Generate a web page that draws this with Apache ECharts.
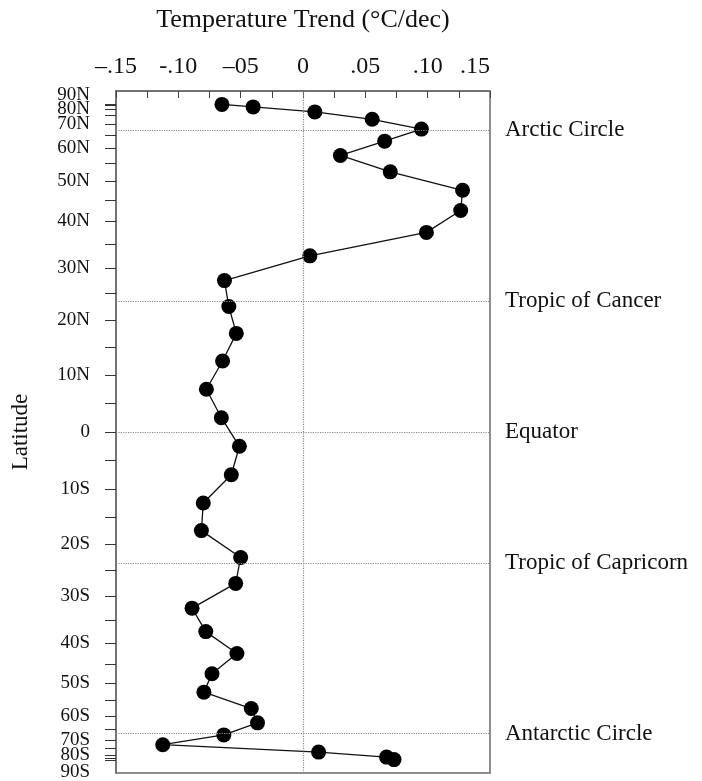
<!DOCTYPE html>
<html>
<head>
<meta charset="utf-8">
<script src="https://cdn.jsdelivr.net/npm/echarts@6/dist/echarts.min.js"></script>
<style>
  html, body { margin: 0; padding: 0; background: #fff; }
  #chart { width: 702px; height: 781px; }
</style>
</head>
<body>
<div id="chart"></div>
<script>
// Zonal-mean temperature trend by 5-degree latitude band (north to south)
const bandLats = [87.5, 82.5, 77.5, 72.5, 67.5, 62.5, 57.5, 52.5, 47.5, 42.5, 37.5, 32.5,
                  27.5, 22.5, 17.5, 12.5, 7.5, 2.5, -2.5, -7.5, -12.5, -17.5, -22.5, -27.5,
                  -32.5, -37.5, -42.5, -47.5, -52.5, -57.5, -62.5, -67.5, -72.5, -77.5, -82.5, -87.5];
const trends = [-0.065, -0.040, 0.0095, 0.0555, 0.095, 0.0655, 0.030, 0.070, 0.128, 0.1265, 0.099, 0.0055,
                -0.063, -0.0595, -0.0535, -0.0645, -0.0775, -0.0655, -0.051, -0.0575, -0.080, -0.0815, -0.050, -0.054,
                -0.089, -0.078, -0.053, -0.073, -0.0795, -0.0415, -0.0365, -0.0635, -0.1125, 0.0125, 0.067, 0.073];

// Trend axis labels
const xTickValues = [-0.15, -0.10, -0.05, 0, 0.05, 0.10, 0.15];
const xTickLabels = ['\u2013.15', '-.10', '\u201305', '0', '.05', '.10', '.15'];

// Latitude axis: labels every 10 degrees, ticks every 5 degrees
const yLabelLats = [90, 80, 70, 60, 50, 40, 30, 20, 10, 0, -10, -20, -30, -40, -50, -60, -70, -80, -90];
const yLabelTexts = ['90N', '80N', '70N', '60N', '50N', '40N', '30N', '20N', '10N', '0',
                     '10S', '20S', '30S', '40S', '50S', '60S', '70S', '80S', '90S'];
const yTickLats = [90, 85, 80, 75, 70, 65, 60, 55, 50, 45, 40, 35, 30, 25, 20, 15, 10, 5, 0,
                   -5, -10, -15, -20, -25, -30, -35, -40, -45, -50, -55, -60, -65, -70, -75, -80, -85, -90];

// Reference parallels
const circleLats = [66.5, 23.5, 0, -23.5, -66.5];
const circleNames = ['Arctic Circle', 'Tropic of Cancer', 'Equator', 'Tropic of Capricorn', 'Antarctic Circle'];

// Latitude is plotted on an area-weighted (sine) scale
const sinLat = lat => Math.sin(lat * Math.PI / 180);

const SERIF = '"Liberation Serif", "DejaVu Serif", serif';

const points = bandLats.map((lat, i) => [trends[i], sinLat(lat)]);
const yLabelPos = yLabelLats.map(sinLat);
// Start the label list at the equator so the crowded polar labels are not
// treated as the axis end labels (which would hide their close neighbours).
const mid = yLabelLats.indexOf(0);
const yLabelOrder = yLabelPos.slice(mid).concat(yLabelPos.slice(0, mid));

const chart = echarts.init(document.getElementById('chart'), null, { renderer: 'canvas' });

chart.setOption({
  animation: false,
  backgroundColor: '#fff',
  grid: {
    left: 116, right: 212, top: 91, bottom: 8,
    outerBoundsMode: 'none',
    containLabel: false,
    show: true, borderColor: '#6a6a6a', borderWidth: 1.5, backgroundColor: 'transparent'
  },
  xAxis: {
    type: 'value',
    position: 'top',
    min: -0.15, max: 0.15, interval: 0.025,
    name: 'Temperature Trend (\u00b0C/dec)',
    nameLocation: 'middle',
    nameGap: 58,
    nameTextStyle: { fontFamily: SERIF, fontSize: 26, color: '#111' },
    axisLine: { show: true, onZero: false, lineStyle: { color: '#6a6a6a', width: 1.5 } },
    axisTick: { show: true, inside: true, length: 7, lineStyle: { color: '#444', width: 1 } },
    splitLine: { show: false },
    axisLabel: {
      customValues: xTickValues,
      margin: 12,
      hideOverlap: false,
      showMinLabel: true, showMaxLabel: true,
      fontFamily: SERIF, fontSize: 24, color: '#111',
      alignMaxLabel: 'right',
      formatter: v => {
        const i = xTickValues.findIndex(t => Math.abs(t - v) < 1e-6);
        return i >= 0 ? xTickLabels[i] : '';
      }
    }
  },
  yAxis: {
    type: 'value',
    min: -1.04, max: 1.04,
    name: 'Latitude',
    nameLocation: 'middle',
    nameGap: 84,
    nameTextStyle: { fontFamily: SERIF, fontSize: 23, color: '#111' },
    axisLine: { show: true, onZero: false, lineStyle: { color: '#6a6a6a', width: 1.5 } },
    axisTick: {
      show: true, inside: false, length: 11,
      customValues: yTickLats.map(sinLat),
      lineStyle: { color: '#333', width: 1 }
    },
    splitLine: { show: false },
    axisLabel: {
      customValues: yLabelOrder,
      margin: 26,
      hideOverlap: false,
      fontFamily: SERIF, fontSize: 19, color: '#111',
      formatter: v => {
        const i = yLabelPos.findIndex(p => Math.abs(p - v) < 1e-6);
        if (i < 0) return '';
        const t = yLabelTexts[i];
        if (yLabelLats[i] === 90) return '{up|' + t + '}';
        if (yLabelLats[i] === -90) return '{dn|' + t + '}';
        return t;
      },
      rich: {
        up: { fontFamily: SERIF, fontSize: 19, color: '#111', padding: [0, 0, 18, 0] },
        dn: { fontFamily: SERIF, fontSize: 19, color: '#111', padding: [24, 0, 0, 0] }
      }
    }
  },
  series: [{
    type: 'line',
    data: points,
    symbol: 'circle',
    symbolSize: 15,
    showAllSymbol: true,
    itemStyle: { color: '#000' },
    lineStyle: { color: '#111', width: 1.3 },
    z: 3,
    markLine: {
      silent: true,
      symbol: 'none',
      animation: false,
      lineStyle: { color: '#8a8a8a', type: 'dotted', width: 1.2 },
      label: {
        show: true,
        position: 'end',
        distance: 15,
        formatter: '{b}',
        fontFamily: SERIF, fontSize: 23, color: '#111'
      },
      data: [
        { xAxis: 0, label: { show: false } }
      ].concat(circleLats.map((lat, i) => ({ name: circleNames[i], yAxis: sinLat(lat) })))
    }
  }]
});
</script>
</body>
</html>
